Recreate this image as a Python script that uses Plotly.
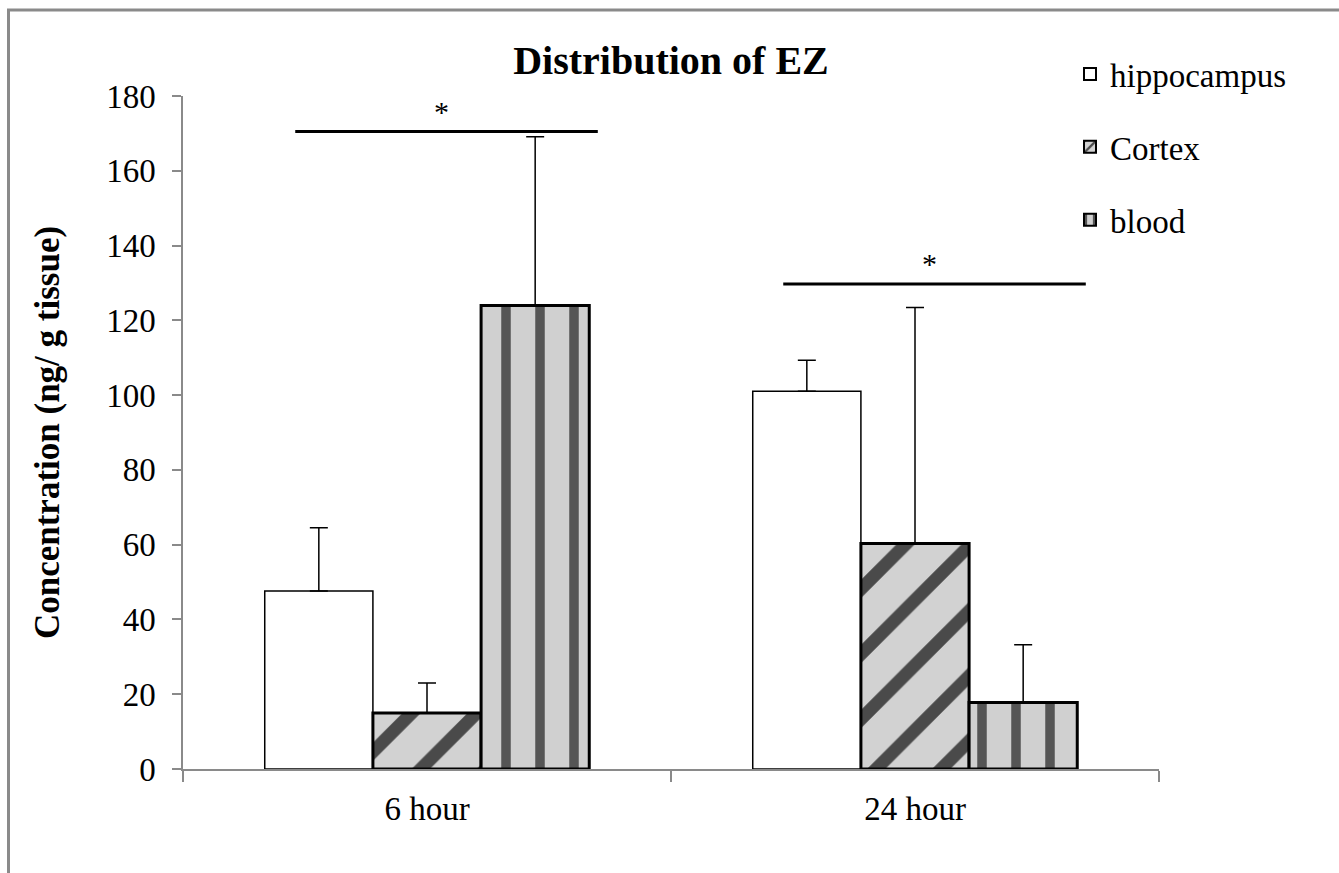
import plotly.graph_objects as go

categories = ["6 hour", "24 hour"]
series_names = ["hippocampus", "Cortex", "blood"]
hippocampus = [47.6, 101.0]
cortex = [15.0, 60.3]
blood = [124.0, 17.8]
hippocampus_err = [16.9, 8.3]
cortex_err = [8.0, 63.1]
blood_err = [45.1, 15.4]
sig_levels = [170.5, 129.7]
sig_labels = ["*", "*"]
y_ticks = [0, 20, 40, 60, 80, 100, 120, 140, 160, 180]

W, H = 1339, 873
L, R, T, B = 183, 180, 96, 104
FONT = "Liberation Serif, Times New Roman, serif"

fig = go.Figure()

styles = [
    dict(color="white", line=dict(color="black", width=1.5)),
    dict(color="#cfcfcf", line=dict(color="black", width=3),
         pattern=dict(shape="/", size=46, solidity=0.28, fgcolor="#4a4a4a", bgcolor="#d2d2d2", fillmode="replace")),
    dict(color="#cfcfcf", line=dict(color="black", width=3),
         pattern=dict(shape="|", size=34, solidity=0.28, fgcolor="#555555", bgcolor="#d0d0d0", fillmode="replace")),
]
values = [hippocampus, cortex, blood]
errs = [hippocampus_err, cortex_err, blood_err]

for name, v, e, st in zip(series_names, values, errs, styles):
    fig.add_trace(go.Bar(
        x=categories, y=v, name=name, legendgroup=name,
        marker=st,
        error_y=dict(type="data", array=e, arrayminus=[0] * len(e), symmetric=False,
                     color="black", thickness=1.5, width=9),
    ))

# significance bars
for i, (lvl, lab) in enumerate(zip(sig_levels, sig_labels)):
    fig.add_shape(type="line", xref="x", yref="y", x0=i - 0.27, x1=i + 0.35, y0=lvl, y1=lvl,
                  line=dict(color="black", width=3))
    fig.add_annotation(x=i + 0.03, y=lvl, xref="x", yref="y", text=lab, showarrow=False,
                       yanchor="bottom", yshift=2, font=dict(family=FONT, size=30, color="black"))

# outer frame (gray border at left and top)
pw = W - L - R
ph = H - T - B
def px_x(p):
    return (p - L) / pw
def px_y(p):
    return 1 - (p - T) / ph
fig.add_shape(type="line", xref="paper", yref="paper", x0=px_x(8.5), x1=px_x(8.5), y0=px_y(10), y1=px_y(H + 5),
              line=dict(color="#8a8a8a", width=3))
fig.add_shape(type="line", xref="paper", yref="paper", x0=px_x(7), x1=px_x(W + 5), y0=px_y(10), y1=px_y(10),
              line=dict(color="#8a8a8a", width=3))

fig.update_layout(
    width=W, height=H,
    margin=dict(l=L, r=R, t=T, b=B, autoexpand=False),
    paper_bgcolor="white", plot_bgcolor="white",
    barmode="group", bargap=0.335, bargroupgap=0,
    font=dict(family=FONT, size=33, color="black"),
    title=dict(text="<b>Distribution of EZ</b>", x=0.5, xref="paper", xanchor="center",
               y=(H - 60) / H, yref="container", yanchor="middle",
               font=dict(family=FONT, size=40, color="black")),
    showlegend=True,
    legend=dict(x=px_x(1070), xanchor="left", y=px_y(46), yanchor="top",
                font=dict(family=FONT, size=33, color="black"),
                traceorder="grouped", tracegroupgap=27, bgcolor="rgba(0,0,0,0)",
                itemsizing="constant"),
    xaxis=dict(type="category", showline=True, linecolor="#8a8a8a", linewidth=1.5,
               ticks="outside", tickson="boundaries", ticklen=11, tickcolor="#8a8a8a", tickwidth=1.5,
               showgrid=False, tickfont=dict(family=FONT, size=33), range=[-0.5, 1.5],
               ticklabelstandoff=10),
    yaxis=dict(range=[0, 180], tickvals=y_ticks, showline=True, linecolor="#8a8a8a", linewidth=1.5,
               ticks="outside", ticklen=9, tickcolor="#8a8a8a", tickwidth=1.5,
               showgrid=False, zeroline=False, tickfont=dict(family=FONT, size=33),
               ticklabelstandoff=10,
               title=dict(text="<b>Concentration (ng/ g tissue)</b>", font=dict(family=FONT, size=35),
                          standoff=36)),
)

fig.write_html("out.html")
